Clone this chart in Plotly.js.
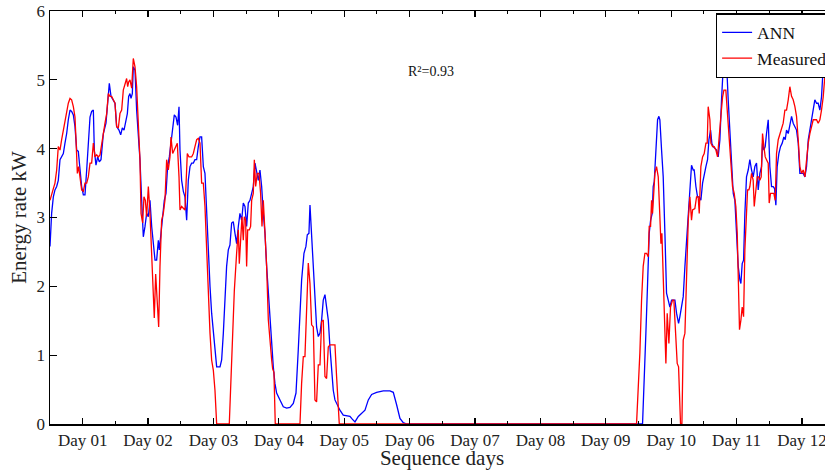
<!DOCTYPE html>
<html>
<head>
<meta charset="utf-8">
<script src="https://cdn.plot.ly/plotly-3.0.1.min.js"></script>
<style>
html,body{margin:0;padding:0;overflow:hidden;background:#fff;}
#chart{width:840px;height:470px;}
</style>
</head>
<body>
<div id="chart"></div>
<script>
// Day positions (fractional days) and energy rate (kW)
const annDays = [0.500,0.525,0.551,0.576,0.602,0.627,0.653,0.678,0.704,0.729,0.755,0.780,0.806,0.831,0.857,0.882,0.908,0.933,0.959,0.984,1.010,1.035,1.061,1.086,1.112,1.137,1.163,1.178,1.203,1.229,1.254,1.280,1.316,1.356,1.382,1.407,1.433,1.468,1.494,1.519,1.555,1.581,1.606,1.632,1.657,1.683,1.703,1.723,1.739,1.759,1.774,1.800,1.825,1.851,1.876,1.902,1.927,1.953,1.978,2.004,2.029,2.055,2.080,2.106,2.131,2.157,2.172,2.197,2.223,2.248,2.274,2.299,2.325,2.350,2.376,2.401,2.427,2.452,2.473,2.488,2.513,2.539,2.564,2.590,2.615,2.641,2.666,2.692,2.717,2.743,2.768,2.794,2.819,2.845,2.870,2.896,2.921,2.947,2.972,2.998,3.023,3.049,3.100,3.125,3.151,3.176,3.201,3.227,3.252,3.278,3.303,3.329,3.354,3.380,3.405,3.431,3.456,3.482,3.507,3.533,3.558,3.584,3.609,3.635,3.660,3.686,3.711,3.737,3.762,3.788,3.813,3.839,3.864,3.890,3.915,3.940,3.966,4.017,4.068,4.119,4.170,4.221,4.262,4.297,4.323,4.348,4.384,4.414,4.435,4.460,4.476,4.501,4.527,4.552,4.577,4.603,4.629,4.654,4.679,4.705,4.730,4.756,4.781,4.807,4.832,4.858,4.883,4.934,4.985,5.036,5.087,5.123,5.164,5.215,5.266,5.317,5.368,5.419,5.495,5.597,5.699,5.750,5.801,5.852,5.903,5.954,9.562,9.588,9.613,9.639,9.664,9.685,9.710,9.725,9.741,9.756,9.776,9.792,9.812,9.827,9.853,9.878,9.904,9.929,9.955,9.980,10.006,10.031,10.057,10.082,10.113,10.133,10.159,10.184,10.210,10.235,10.261,10.286,10.311,10.337,10.352,10.378,10.403,10.429,10.454,10.480,10.505,10.531,10.556,10.577,10.602,10.622,10.643,10.668,10.694,10.719,10.745,10.770,10.796,10.821,10.847,10.872,10.898,10.923,10.949,10.974,11.000,11.025,11.051,11.066,11.086,11.107,11.127,11.152,11.178,11.203,11.229,11.254,11.280,11.305,11.331,11.356,11.382,11.397,11.418,11.438,11.458,11.484,11.509,11.535,11.560,11.581,11.601,11.621,11.647,11.672,11.698,11.723,11.744,11.764,11.790,11.815,11.841,11.866,11.892,11.917,11.943,11.968,11.994,12.019,12.045,12.070,12.096,12.121,12.147,12.172,12.197,12.223,12.248,12.274,12.299,12.325,12.350,12.380];
const annValues = [2.58,3.06,3.30,3.40,3.45,3.54,3.84,3.88,3.93,4.08,4.22,4.42,4.56,4.54,4.49,4.32,3.98,3.96,3.74,3.45,3.33,3.33,3.69,4.08,4.46,4.54,4.56,3.98,3.76,3.88,3.81,3.84,4.22,4.37,4.71,4.95,4.76,4.71,4.66,4.32,4.27,4.20,4.30,4.27,4.42,4.51,4.76,4.80,4.73,4.80,5.19,5.14,4.56,4.22,3.84,3.25,2.72,2.87,3.06,3.01,3.25,2.87,2.58,2.38,2.38,2.67,2.53,2.77,3.11,3.25,3.35,3.74,3.88,4.08,4.37,4.49,4.46,4.34,4.61,3.98,3.54,3.38,3.30,2.96,3.54,3.74,3.79,3.79,3.84,3.84,4.03,4.17,4.17,3.74,3.64,3.06,2.48,2.00,1.61,1.32,1.12,0.83,0.83,0.93,1.32,1.80,2.29,2.53,2.60,2.92,2.94,2.77,2.62,2.87,3.06,2.96,3.21,3.16,2.87,3.21,3.25,3.35,3.45,3.79,3.64,3.54,3.69,3.45,3.06,2.77,2.29,1.90,1.46,1.12,0.83,0.59,0.45,0.35,0.25,0.23,0.24,0.30,0.45,1.08,1.61,2.09,2.48,2.58,2.75,2.77,3.18,2.72,2.14,1.66,1.41,1.27,1.32,1.51,1.80,1.88,1.71,1.51,1.12,0.78,0.49,0.35,0.30,0.20,0.13,0.12,0.11,0.07,0.03,0.11,0.16,0.20,0.35,0.43,0.46,0.48,0.48,0.46,0.28,0.08,0.02,0,0,0.59,1.32,2.04,2.77,2.96,3.06,3.45,3.52,3.79,4.13,4.42,4.47,4.42,3.98,3.59,2.77,1.90,1.80,1.70,1.80,1.80,1.80,1.61,1.46,1.56,1.75,1.85,2.29,2.67,3.06,3.35,3.76,3.69,3.69,3.45,3.30,3.30,3.25,3.50,3.64,3.74,3.84,4.13,4.27,4.08,4.03,4.00,3.98,3.88,4.13,4.71,5.19,5.35,5.24,4.71,4.22,3.74,3.35,3.25,2.77,2.29,2.09,2.04,2.33,2.38,3.06,3.59,3.69,3.84,3.69,3.59,3.74,3.79,3.40,3.64,3.74,4.08,3.98,4.03,4.22,4.42,3.74,3.45,3.45,3.42,3.18,3.74,3.93,4.03,4.08,4.17,4.13,4.27,4.22,4.32,4.47,4.37,4.32,4.27,4.08,3.64,3.64,3.64,3.59,3.74,4.13,4.27,4.42,4.51,4.71,4.66,4.66,4.56,4.75,5.19,5.48,5.70];

const measDays = [0.500,0.525,0.551,0.576,0.602,0.627,0.653,0.678,0.704,0.729,0.755,0.780,0.806,0.831,0.857,0.882,0.898,0.918,0.938,0.959,0.984,1.010,1.035,1.061,1.086,1.112,1.137,1.163,1.188,1.214,1.239,1.265,1.290,1.316,1.341,1.367,1.392,1.417,1.443,1.468,1.494,1.519,1.545,1.570,1.596,1.621,1.647,1.672,1.688,1.703,1.723,1.749,1.774,1.800,1.825,1.851,1.876,1.892,1.917,1.937,1.958,1.978,2.004,2.029,2.055,2.080,2.095,2.116,2.141,2.162,2.182,2.207,2.233,2.258,2.284,2.309,2.335,2.350,2.376,2.401,2.427,2.447,2.473,2.488,2.513,2.539,2.564,2.600,2.626,2.666,2.692,2.717,2.743,2.768,2.794,2.819,2.845,2.870,2.896,2.921,2.947,2.972,2.998,3.023,3.049,3.242,3.268,3.293,3.319,3.354,3.380,3.395,3.416,3.436,3.456,3.472,3.492,3.507,3.523,3.548,3.568,3.584,3.609,3.625,3.645,3.670,3.696,3.721,3.742,3.762,3.788,3.813,3.839,3.864,3.890,3.905,3.925,3.945,4.323,4.348,4.374,4.399,4.424,4.450,4.476,4.501,4.527,4.552,4.577,4.603,4.629,4.654,4.679,4.705,4.730,4.756,4.781,4.858,4.883,4.924,9.470,9.496,9.521,9.547,9.572,9.598,9.623,9.649,9.664,9.685,9.700,9.715,9.736,9.751,9.776,9.802,9.827,9.843,9.858,9.878,9.904,9.919,9.939,9.965,9.990,10.021,10.041,10.072,10.092,10.113,10.143,10.164,10.184,10.210,10.235,10.261,10.286,10.311,10.327,10.362,10.388,10.413,10.429,10.454,10.480,10.505,10.531,10.551,10.566,10.592,10.607,10.633,10.658,10.684,10.709,10.735,10.760,10.786,10.806,10.836,10.857,10.887,10.913,10.938,10.964,10.989,11.010,11.025,11.045,11.066,11.086,11.107,11.127,11.152,11.168,11.188,11.203,11.229,11.254,11.270,11.295,11.316,11.336,11.356,11.377,11.397,11.418,11.438,11.458,11.484,11.499,11.519,11.550,11.570,11.591,11.611,11.637,11.662,11.688,11.713,11.739,11.764,11.790,11.815,11.841,11.866,11.892,11.917,11.943,11.968,11.994,12.019,12.045,12.070,12.096,12.121,12.147,12.172,12.197,12.223,12.248,12.274,12.299,12.325,12.350,12.380];
const measValues = [3.25,3.35,3.42,3.50,3.69,4.03,3.98,4.13,4.27,4.42,4.51,4.66,4.73,4.71,4.61,4.46,4.13,3.64,3.74,3.54,3.40,3.38,3.50,3.50,3.59,3.79,3.79,4.08,3.88,3.91,3.88,3.91,4.08,4.22,4.37,4.51,4.80,4.76,4.76,4.71,4.66,4.32,4.30,4.51,4.56,4.85,4.95,5.02,4.90,4.97,5.00,4.88,5.31,5.19,4.90,4.32,3.84,3.06,2.92,3.30,3.25,3.01,3.45,3.06,2.48,1.80,1.54,2.18,1.80,1.41,2.29,2.96,3.06,3.25,3.84,3.69,3.88,4.17,3.93,3.98,4.03,4.08,3.59,3.11,3.16,3.13,3.11,3.93,3.88,3.88,3.93,4.03,4.13,4.15,4.08,3.50,3.50,3.16,2.43,1.94,1.32,0.93,0.78,0.49,0,0,0.69,1.32,1.94,2.48,2.82,2.33,2.77,3.01,2.67,3.01,2.96,2.29,2.82,2.82,2.87,3.25,3.35,3.84,3.45,3.64,3.64,3.35,2.87,3.25,2.77,2.29,1.51,1.17,0.93,0.80,0.75,0,0,0.59,0.98,0.98,1.80,2.34,2.04,1.44,1.41,0.35,0.32,0.86,0.86,1.49,1.51,0.69,0.66,1.12,1.15,1.15,0.69,0,0,0.45,1.03,1.80,2.29,2.48,2.48,2.43,2.87,2.87,3.25,3.06,3.45,3.64,3.74,3.59,3.01,2.62,2.77,2.04,1.32,0.88,1.61,1.17,1.70,1.80,1.80,1.32,0.88,0.83,0,0,1.22,1.32,2.29,2.96,3.30,2.96,3.11,3.13,3.30,3.30,3.06,3.74,3.88,3.93,4.08,4.08,4.61,4.42,4.08,4.03,4.03,3.98,3.88,4.13,4.47,4.75,4.85,4.85,4.56,4.13,3.74,3.45,3.35,3.16,2.77,2.00,1.37,1.51,1.70,1.56,2.53,3.06,3.40,3.40,3.45,3.64,3.54,3.16,3.45,3.59,3.59,3.54,3.59,4.22,4.03,3.88,3.84,3.79,3.21,3.35,3.35,3.35,3.25,3.93,4.13,4.22,4.32,4.37,4.56,4.56,4.71,4.90,4.76,4.71,4.61,4.47,4.13,3.74,3.64,3.69,3.59,3.84,4.08,4.22,4.32,4.42,4.42,4.42,4.37,4.42,4.56,4.75,5.05,5.20];

const dayTickVals = [1,2,3,4,5,6,7,8,9,10,11,12];
const dayTickLabels = ['Day 01','Day 02','Day 03','Day 04','Day 05','Day 06','Day 07','Day 08','Day 09','Day 10','Day 11','Day 12'];
const seriesNames = ['ANN','Measured'];
const r2Label = 'R²=0.93';

const font = 'Liberation Serif, Times New Roman, serif';

const traces = [
  {x: annDays, y: annValues, name: seriesNames[0], type: 'scatter', mode: 'lines',
   line: {color: '#0000ff', width: 1.3}},
  {x: measDays, y: measValues, name: seriesNames[1], type: 'scatter', mode: 'lines',
   line: {color: '#ff0000', width: 1.3}}
];

const layout = {
  width: 840, height: 470,
  margin: {l: 50, r: 6, t: 11, b: 46},
  paper_bgcolor: '#ffffff', plot_bgcolor: '#ffffff',
  font: {family: font, color: '#222222', size: 17},
  showlegend: true,
  legend: {x: 0.849, y: 0.995, xanchor: 'left', yanchor: 'top',
    bgcolor: '#ffffff', bordercolor: '#000000', borderwidth: 1.5,
    font: {family: font, size: 17.5, color: '#111111'}, tracegroupgap: 0},
  xaxis: {
    range: [0.5, 12.49], tickmode: 'array', tickvals: dayTickVals, ticktext: dayTickLabels,
    ticks: 'inside', ticklen: 6, tickwidth: 1.2, tickcolor: '#000',
    showline: true, linecolor: '#000', linewidth: 1.5, mirror: 'ticks',
    showgrid: false, zeroline: false,
    minor: {tickmode: 'linear', tick0: 0.5, dtick: 0.5, ticks: 'inside', ticklen: 3, tickcolor: '#000', tickwidth: 1},
    tickfont: {family: font, size: 17, color: '#222'},
    title: {text: 'Sequence days', font: {family: font, size: 21, color: '#222'}, standoff: 3}
  },
  yaxis: {
    range: [0, 6], dtick: 1, tick0: 0,
    ticks: 'inside', ticklen: 7, tickwidth: 1.2, tickcolor: '#000',
    showline: true, linecolor: '#000', linewidth: 1.5, mirror: 'ticks',
    showgrid: false, zeroline: false,
    tickfont: {family: font, size: 17, color: '#222'},
    title: {text: 'Energy rate kW', font: {family: font, size: 21, color: '#222'}, standoff: 4}
  },
  annotations: [{
    x: 6.326, y: 5.116, xref: 'x', yref: 'y', text: r2Label, showarrow: false,
    font: {family: font, size: 14, color: '#111'}
  }]
};

Plotly.newPlot('chart', traces, layout, {displayModeBar: false, staticPlot: true});
</script>
</body>
</html>
